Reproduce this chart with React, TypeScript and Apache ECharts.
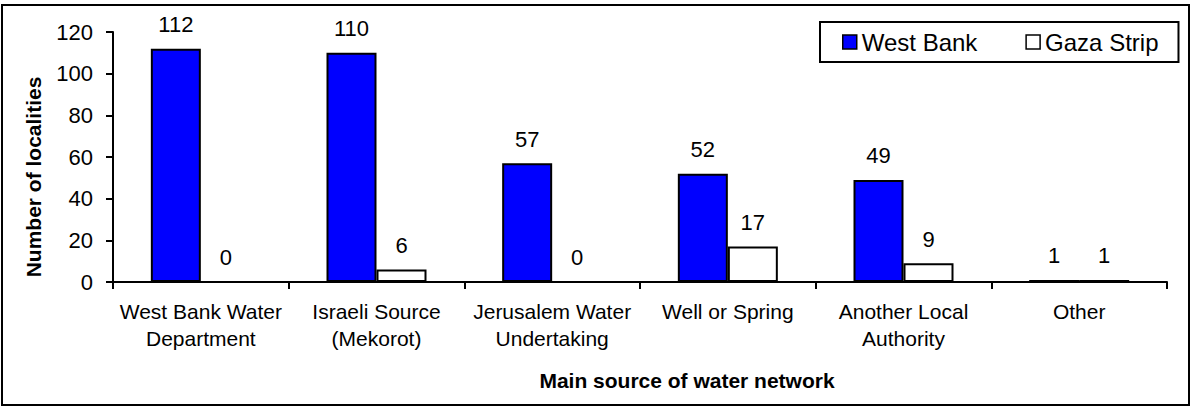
import React, { useEffect, useRef } from "react";
import * as echarts from "echarts";

const categories = [
  "West Bank Water\nDepartment",
  "Israeli Source\n(Mekorot)",
  "Jerusalem Water\nUndertaking",
  "Well or Spring",
  "Another Local\nAuthority",
  "Other",
];
const westBank = [112, 110, 57, 52, 49, 1];
const gazaStrip = [0, 6, 0, 17, 9, 1];
const seriesNames = ["West Bank", "Gaza Strip"];
const yAxisTitle = "Number of localities";
const xAxisTitle = "Main source of water network";

const FONT = "Arial, 'Liberation Sans', Helvetica, sans-serif";

export default function App() {
  const ref = useRef<HTMLDivElement>(null);
  useEffect(() => {
    if (!ref.current) return;
    const chart = echarts.init(ref.current, undefined, { renderer: "svg" });
    const labelStyle = {
      show: true,
      position: "top",
      distance: 13,
      fontSize: 22,
      color: "#000",
      fontFamily: FONT,
    };
    chart.setOption({
      animation: false,
      backgroundColor: "#fff",
      textStyle: { fontFamily: FONT, color: "#000" },
      grid: { left: 113, right: 25, top: 32, bottom: 126 },
      legend: {
        left: 820,
        top: 22,
        orient: "horizontal",
        icon: "rect",
        itemWidth: 14,
        itemHeight: 14,
        itemGap: 48,
        borderColor: "#000",
        borderWidth: 2,
        padding: [8, 20, 8, 22],
        textStyle: { fontSize: 24, color: "#000", fontFamily: FONT },
        data: [
          { name: seriesNames[0], itemStyle: { color: "#0000ff", borderColor: "#000", borderWidth: 1.5 } },
          { name: seriesNames[1], itemStyle: { color: "#fff", borderColor: "#000", borderWidth: 1.5 } },
        ],
      },
      xAxis: {
        type: "category",
        data: categories,
        axisLine: { show: true, lineStyle: { color: "#000", width: 2 } },
        axisTick: { show: true, length: 7, lineStyle: { color: "#000", width: 2 } },
        axisLabel: {
          fontSize: 21,
          color: "#000",
          margin: 16,
          lineHeight: 27,
          fontFamily: FONT,
          interval: 0,
        },
        splitLine: { show: false },
      },
      yAxis: {
        type: "value",
        min: 0,
        max: 120,
        interval: 20,
        axisLine: { show: true, lineStyle: { color: "#000", width: 2 } },
        axisTick: { show: true, length: 7, lineStyle: { color: "#000", width: 2 } },
        axisLabel: { fontSize: 22, color: "#000", margin: 20, fontFamily: FONT },
        splitLine: { show: false },
      },
      series: [
        {
          name: seriesNames[0],
          type: "bar",
          data: westBank,
          barWidth: 50,
          barGap: "0%",
          itemStyle: { color: "#0000ff", borderColor: "#000", borderWidth: 2 },
          label: labelStyle,
        },
        {
          name: seriesNames[1],
          type: "bar",
          data: gazaStrip,
          barWidth: 50,
          barGap: "0%",
          itemStyle: { color: "#fff", borderColor: "#000", borderWidth: 2 },
          label: labelStyle,
        },
      ],
      graphic: [
        {
          type: "rect",
          shape: { x: 2, y: 5, width: 1187, height: 400 },
          style: { fill: "none", stroke: "#000", lineWidth: 2 },
          silent: true,
        },
        {
          type: "text",
          x: 33,
          y: 177,
          rotation: Math.PI / 2,
          style: {
            text: yAxisTitle,
            fontSize: 21,
            fontWeight: "bold",
            fontFamily: FONT,
            fill: "#000",
            textAlign: "center",
            textVerticalAlign: "middle",
          },
        },
        {
          type: "text",
          x: 687,
          y: 380,
          style: {
            text: xAxisTitle,
            fontSize: 21,
            fontWeight: "bold",
            fontFamily: FONT,
            fill: "#000",
            textAlign: "center",
            textVerticalAlign: "middle",
          },
        },
      ],
    });
    return () => chart.dispose();
  }, []);
  return (
    <div
      ref={ref}
      style={{ position: "absolute", left: 0, top: 0, width: 1192, height: 408, background: "#fff" }}
    />
  );
}
